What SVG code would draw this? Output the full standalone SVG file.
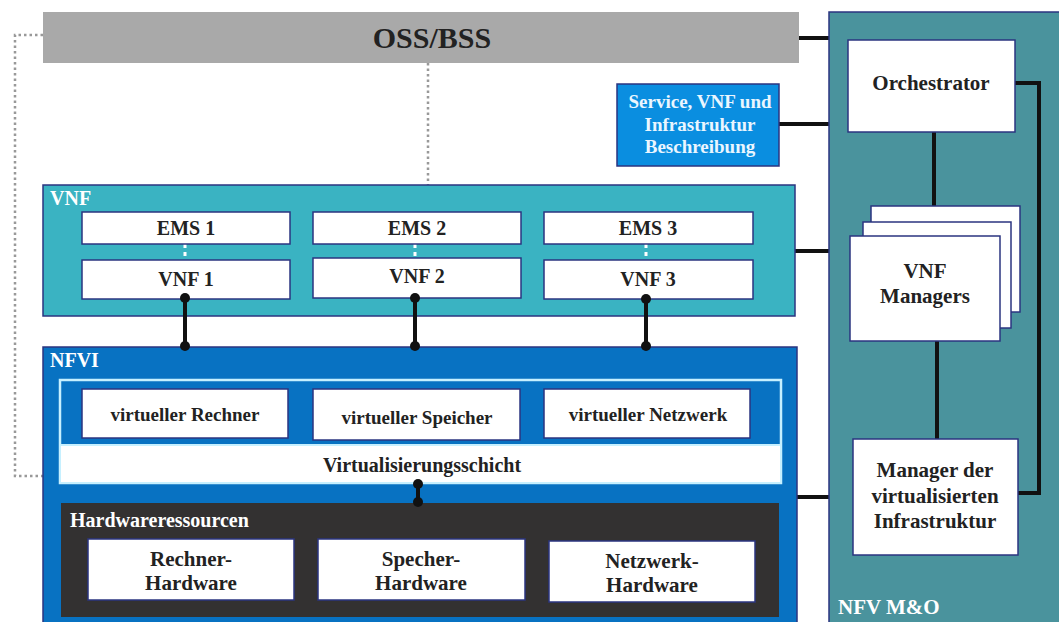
<svg xmlns="http://www.w3.org/2000/svg" width="1059" height="622" viewBox="0 0 1059 622" font-family="'Liberation Serif', 'Times New Roman', Times, serif">
<style>
text{font-family:"Liberation Serif","Times New Roman",Times,"DejaVu Serif",serif;font-weight:bold}
.d{fill:#222;text-anchor:middle}
.w{fill:#fff}
.wc{fill:#eaf6ff;text-anchor:middle}
.box{fill:#fff;stroke:#2b3580;stroke-width:1.5}
.con{stroke:#111;stroke-width:4;fill:none}
.dot{stroke:#999;stroke-width:2.5;stroke-dasharray:2.5 3;fill:none}
.wd{stroke:#fff;stroke-width:3;stroke-dasharray:4 4;fill:none}
</style>
<rect width="1059" height="622" fill="#fff"/>

<g id="connectors">
<path class="dot" d="M43 35H15V476H43"/>
<path class="dot" d="M428 63V185"/>
<path class="con" d="M799 38H829"/>
<path class="con" d="M779 124H829"/>
<path class="con" d="M795 251H829"/>
<path class="con" d="M797 497H829"/>
</g>

<g id="oss">
<rect x="43" y="12" width="756" height="51" fill="#a9a9a9"/>
<text x="432" y="48" class="d" font-size="30">OSS/BSS</text>
</g>

<g id="nfvmo">
<rect x="829" y="12" width="232" height="612" fill="#4a939d" stroke="#2b3580" stroke-width="1.5"/>
<text x="838" y="614" class="w" font-size="21">NFV M&amp;O</text>
<g class="mocon">
<path class="con" d="M934 131V206"/>
<path class="con" d="M937 341V439"/>
<path class="con" d="M1015 83H1039V493H1018"/>
</g>
</g>

<g id="orchestrator">
<rect x="848" y="40" width="167" height="92" class="box"/>
<text x="931" y="90" class="d" font-size="21">Orchestrator</text>
</g>

<g id="vnfm">
<rect x="871" y="206" width="149" height="106" class="box"/>
<rect x="863" y="222" width="148" height="106" class="box"/>
<rect x="850" y="236" width="150" height="105" class="box"/>
<text x="925" y="278" class="d" font-size="21">VNF</text>
<text x="925" y="303" class="d" font-size="21">Managers</text>
</g>

<g id="vim">
<rect x="853" y="439" width="165" height="116" class="box"/>
<text x="935" y="477" class="d" font-size="21">Manager der</text>
<text x="935" y="503" class="d" font-size="21">virtualisierten</text>
<text x="935" y="528" class="d" font-size="21">Infrastruktur</text>
</g>

<g id="service">
<rect x="617" y="84" width="162" height="82" fill="#0a8ee0" stroke="#2b3580" stroke-width="1.5"/>
<text x="700" y="108" class="wc" font-size="19">Service, VNF und</text>
<text x="700" y="131" class="wc" font-size="19">Infrastruktur</text>
<text x="700" y="153" class="wc" font-size="19">Beschreibung</text>
</g>

<g id="vnf">
<rect x="43" y="185" width="752" height="131" fill="#3ab3c2" stroke="#2b3580" stroke-width="1.5"/>
<text x="50" y="205" class="w" font-size="20">VNF</text>
<path class="wd" d="M185 244V260M415 244V258M646 244V260"/>
<g id="ems1"><rect x="82" y="212" width="208" height="32" class="box"/><text x="186" y="235" class="d" font-size="20">EMS 1</text></g>
<g id="ems2"><rect x="313" y="212" width="208" height="32" class="box"/><text x="417" y="235" class="d" font-size="20">EMS 2</text></g>
<g id="ems3"><rect x="544" y="212" width="209" height="32" class="box"/><text x="648" y="235" class="d" font-size="20">EMS 3</text></g>
<g id="vnf1"><rect x="82" y="260" width="208" height="39" class="box"/><text x="186" y="286" class="d" font-size="20">VNF 1</text></g>
<g id="vnf2"><rect x="313" y="258" width="208" height="40" class="box"/><text x="417" y="283" class="d" font-size="20">VNF 2</text></g>
<g id="vnf3"><rect x="544" y="260" width="209" height="39" class="box"/><text x="648" y="286" class="d" font-size="20">VNF 3</text></g>
</g>

<g id="nfvi">
<rect x="43" y="347" width="754" height="280" fill="#0872c2" stroke="#2b3580" stroke-width="1.5"/>
<text x="50" y="367" class="w" font-size="20">NFVI</text>
<rect x="60" y="380" width="721" height="103" fill="none" stroke="#c6f0ff" stroke-width="2.5"/>
<rect x="61" y="445" width="719" height="37" fill="#fff"/>
<line x1="61" y1="445" x2="780" y2="445" stroke="#c6f0ff" stroke-width="2"/>
<text x="422" y="472" class="d" font-size="20">Virtualisierungsschicht</text>
<g id="vr"><rect x="82" y="389" width="206" height="49" class="box"/><text x="185" y="421" class="d" font-size="19">virtueller Rechner</text></g>
<g id="vs"><rect x="313" y="389" width="207" height="51" class="box"/><text x="417" y="424" class="d" font-size="19">virtueller Speicher</text></g>
<g id="vn"><rect x="544" y="389" width="206" height="49" class="box"/><text x="648" y="421" class="d" font-size="19">virtueller Netzwerk</text></g>
<g id="hw">
<rect x="61" y="503" width="718" height="114" fill="#333131"/>
<text x="70" y="527" class="w" font-size="20">Hardwareressourcen</text>
<g id="hw1"><rect x="88" y="539" width="206" height="61" class="box"/><text x="191" y="566" class="d" font-size="21">Rechner-</text><text x="191" y="590" class="d" font-size="21">Hardware</text></g>
<g id="hw2"><rect x="318" y="539" width="207" height="61" class="box"/><text x="421" y="566" class="d" font-size="21">Specher-</text><text x="421" y="590" class="d" font-size="21">Hardware</text></g>
<g id="hw3"><rect x="549" y="541" width="206" height="61" class="box"/><text x="652" y="568" class="d" font-size="21">Netzwerk-</text><text x="652" y="592" class="d" font-size="21">Hardware</text></g>
</g>
</g>

<g id="links">
<path class="con" d="M185 298V346M415 298V346M646 298V346M418 483V503"/>
<g fill="#111">
<circle cx="185" cy="298" r="5"/><circle cx="185" cy="346" r="5"/>
<circle cx="415" cy="298" r="5"/><circle cx="415" cy="346" r="5"/>
<circle cx="646" cy="299" r="5"/><circle cx="646" cy="346" r="5"/>
<circle cx="418" cy="484" r="5"/><circle cx="418" cy="502" r="5"/>
</g>
</g>
</svg>
